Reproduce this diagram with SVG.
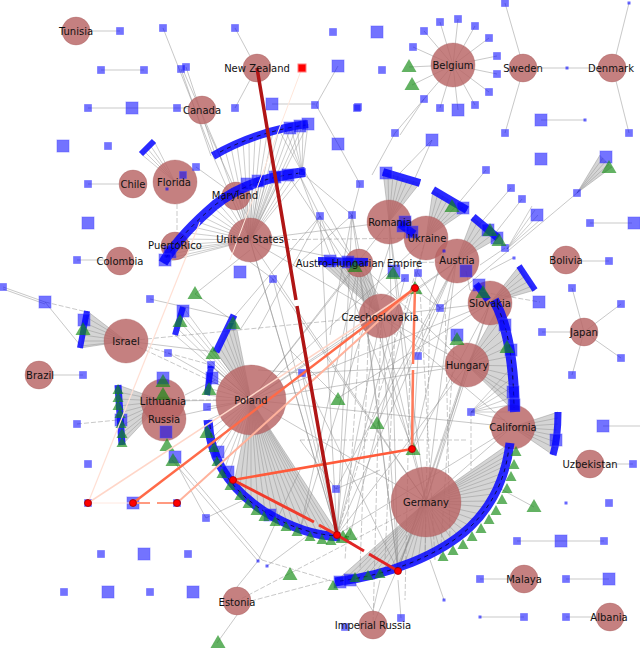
<svg xmlns="http://www.w3.org/2000/svg" width="640" height="650" viewBox="0 0 640 650">
<style>
.e{fill:none;stroke:#8c8c8c;stroke-width:.6;stroke-opacity:.8}
.ed{fill:none;stroke:#8c8c8c;stroke-width:.6;stroke-opacity:.8;stroke-dasharray:5 2}
.f{fill:none;stroke:#8a8a8a;stroke-width:.5;stroke-opacity:.85}
.fp{fill:#9a9a9a;fill-opacity:.42}
.c{fill:#b86464;fill-opacity:.82;stroke:#a05555;stroke-width:.5;stroke-opacity:.6}
.bs{fill:#0000ff;fill-opacity:.55;stroke:#5050ff;stroke-opacity:.45}
.gt{fill:#128a12;fill-opacity:.66}
.arc{fill:none;stroke:#0505ff;stroke-opacity:.85;stroke-linejoin:round}
.lab{fill:none;stroke:#000;stroke-width:.7;stroke-dasharray:4 4}
.rd{fill:#ff0000;stroke:#900;stroke-width:.8}
.re{fill:none}
text{font-family:"DejaVu Sans","Liberation Sans",sans-serif;font-size:10px;fill:#111;text-anchor:middle;dominant-baseline:central}
</style>
<defs>
<rect id="q" class="bs" x="-3.5" y="-3.5" width="7" height="7"/>
<rect id="Q" class="bs" x="-6" y="-6" width="12" height="12"/>
<rect id="d" fill="#0000ff" fill-opacity=".6" x="-1.5" y="-1.5" width="3" height="3"/>
<path id="t" class="gt" d="M0,-8L7.5,5H-7.5Z"/>
<path id="ts" class="gt" d="M0,-6L5.5,4H-5.5Z"/>
</defs>
<rect width="640" height="650" fill="#fff"/>

<g id="connectors">
<polygon class="fp" points="251,400 233,488 245,499 258,508 272,516 287,523 302,529 318,534 330,536 340,537"/>
<polygon class="fp" points="426,502 335,582 350,580 365,578 380,575 395,571 410,565 425,558 440,550 453,541 465,531 475,520 485,507 493,494 500,480 505,466 508,455 510,443"/>
<polygon class="fp" points="126,341 87,311 80,348"/>
<polygon class="fp" points="163,401 118,385 122,445"/>
<polygon class="fp" points="467,365 498,308 508,337 513,366 515,412"/>
<polygon class="fp" points="512,427 558,412 553,455"/>
<polygon class="fp" points="381,316 318,261 368,262"/>
<polygon class="fp" points="389,222 383,172 420,183"/>
<polygon class="fp" points="426,238 433,190 467,210"/>
<polygon class="fp" points="456,262 473,217 498,238"/>
<polygon class="fp" points="490,303 519,266 535,290"/>
<polygon class="fp" points="577,193 600,155 612,167"/>
<polygon class="fp" points="251,400 234,315 216,352"/>
<path class="f" d="M251,400L208,420M251,400L209,430M251,400L210,440M251,400L212,449M251,400L214,457M251,400L218,466M251,400L222,475M251,400L227,482M251,400L233,488M251,400L239,494M251,400L245,499M251,400L251,504M251,400L258,508M251,400L265,512M251,400L272,516M251,400L279,520M251,400L287,523M251,400L294,526M251,400L302,529M251,400L310,532M251,400L318,534M251,400L324,535M251,400L330,536M251,400L335,537M251,400L340,537"/>
<path class="f" d="M426,502L335,582M426,502L343,581M426,502L350,580M426,502L358,579M426,502L365,578M426,502L372,577M426,502L380,575M426,502L388,573M426,502L395,571M426,502L403,568M426,502L410,565M426,502L418,562M426,502L425,558M426,502L433,554M426,502L440,550M426,502L447,546M426,502L453,541M426,502L459,536M426,502L465,531M426,502L470,526M426,502L475,520M426,502L480,514M426,502L485,507M426,502L489,501M426,502L493,494M426,502L497,487M426,502L500,480M426,502L503,473M426,502L505,466M426,502L507,460M426,502L508,455M426,502L509,449M426,502L510,443"/>
<path class="f" d="M250,240L305,172M250,240L297,173M250,240L290,174M250,240L282,175M250,240L275,176M250,240L267,178M250,240L260,180M250,240L252,183M250,240L245,186M250,240L237,190M250,240L230,194M250,240L224,198M250,240L218,203M250,240L213,207M250,240L208,212M250,240L203,217M250,240L198,222M250,240L193,227M250,240L188,233M250,240L183,239M250,240L178,245M250,240L174,250M250,240L170,254M250,240L166,259M250,240L163,263"/>
<path class="f" d="M250,240L213,156M250,240L219,153M250,240L225,150M250,240L231,147M250,240L237,145M250,240L243,142M250,240L249,140M250,240L255,138M250,240L261,136M250,240L267,134M250,240L273,132M250,240L279,130M250,240L285,129M250,240L291,127M250,240L297,126M250,240L303,125M250,240L308,124M302,172L279,130M302,172L285,129M302,172L291,127M302,172L297,126M302,172L303,125M302,172L308,124"/>
<path class="f" d="M126,341L87,311M126,341L86,317M126,341L85,323M126,341L84,329M126,341L83,335M126,341L82,341M126,341L81,346M126,341L80,348M163,401L118,385M163,401L118,392M163,401L118,399M163,401L119,406M163,401L119,413M163,401L120,420M163,401L120,427M163,401L121,434M163,401L121,440M163,401L122,445"/>
<path class="f" d="M389,222L383,172M389,222L388,173M389,222L393,175M389,222L398,176M389,222L403,178M389,222L408,179M389,222L414,181M389,222L420,183M426,238L433,190M426,238L438,193M426,238L443,196M426,238L448,199M426,238L453,201M426,238L458,204M426,238L463,207M426,238L467,210M456,262L473,217M456,262L478,221M456,262L483,225M456,262L488,229M456,262L493,234M456,262L498,238M490,303L519,266M490,303L522,271M490,303L525,276M490,303L529,281M490,303L532,286M490,303L535,290M577,193L600,155M577,193L603,158M577,193L606,161M577,193L609,164M577,193L612,167M507,249L532,206M507,249L535,210M507,249L538,215M507,249L540,220"/>
<path class="f" d="M381,316L318,261M381,316L323,261M381,316L328,261M381,316L333,261M381,316L338,261M381,316L343,262M381,316L348,262M381,316L353,262M381,316L358,262M381,316L363,262M381,316L368,262M175,182L141,154M175,182L144,151M175,182L147,148M175,182L150,145M175,182L154,141"/>
<path class="f" d="M251,400L234,315M251,400L231,321M251,400L228,328M251,400L225,334M251,400L222,340M251,400L219,346M251,400L216,352M251,400L211,366M251,400L210,373M251,400L209,380M251,400L208,388M251,400L207,395M251,400L183,307M251,400L181,314M251,400L179,321M251,400L177,328M251,400L175,335"/>
<path class="f" d="M467,365L498,308M467,365L502,318M467,365L505,327M467,365L508,337M467,365L510,346M467,365L512,356M467,365L513,366M467,365L514,376M467,365L514,386M467,365L515,396M467,365L515,404M467,365L515,412M471,412L513,366M471,412L514,376M471,412L514,386M471,412L515,396M471,412L515,404M471,412L515,412M471,412L505,420M512,427L558,412M512,427L558,418M512,427L558,424M512,427L557,430M512,427L557,436M512,427L556,442M512,427L555,448M512,427L553,455"/>
<path class="e" d="M90,31H120M101,70H144M88,108H188M88,184H119M163,28L213,155M181,69L211,156M186,67L216,157M183,70L222,160M235,28L250,56M235,108L250,80M272,104H315M338,66L316,105L338,144L360,184M424,99L395,133L372,175M432,140L400,173M432,140L415,178M505,3L520,55M520,81L505,133M537,68H598M629,3L616,55M616,81L629,133M541,120H585M486,170L457,205M511,188L478,226M522,199L493,236M577,193L440,308M590,223H632M609,261H579M572,288L584,332M621,304L584,332M621,358L584,332M572,375L584,332M542,332H570M633,464H604M517,541H604M480,579H510M566,579H609M480,617H524M566,617H596M603,426H640M534,507L497,487M3,287L45,302M3,289L45,304M45,302L80,345M77,260H106M83,375H53M195,294L250,250M195,294L232,320M273,279L250,262M273,279L240,330M320,216L258,330M320,216L378,294M352,215L359,250M352,215L300,262M320,216L233,318M352,215L330,335M320,216L300,176M352,215L303,174M300,176L330,255M290,178L342,257M305,172L350,253M360,184L352,215M338,398L290,350M302,373L258,370M205,124L248,218M196,167L236,196"/>
<path class="e" d="M453,65L413,47M453,65L424,31M453,65L440,22M453,65L458,19M453,65L475,26M453,65L489,38M453,65L497,56M453,65L497,74M453,65L489,92M453,65L475,105M453,65L458,110M453,65L440,108M453,65L424,99M453,65L409,67M453,65L412,85M424,99L400,135"/>
<path class="e" d="M251,400L381,316M251,400L426,502M251,400L467,365M251,400L456,262M251,400L359,263M251,400L389,222M251,400L426,238M251,400L490,303M251,400L512,427M381,316L426,502M381,316L467,365M381,316L250,240M381,316L456,262M381,316L490,303M381,316L512,427M359,263L426,502M359,263L467,365M359,263L250,240M426,502L467,365M426,502L512,427M426,502L490,303M426,502L456,262M426,502L389,222M426,502L250,240M426,502L373,625M250,240L389,222M163,401L251,400M164,419L251,400M337,535L359,263M337,535L381,316M337,535L320,216M337,535L352,215M337,535L273,279M337,535L467,365M337,535L302,373M337,535L250,240M398,571L389,222M398,571L381,316M398,571L359,263M413,450L456,262M413,450L389,222M413,450L490,303M237,587L258,561L300,470M172,460L258,561M175,457L262,560M267,566L315,530M237,615L217,643M373,611L355,583M373,611L380,580M401,618L398,580M444,600L430,560M206,518L250,497M206,518L176,463M336,489L300,440M336,489L380,470M418,356L440,308M418,356L413,445M405,278L381,300M418,273L440,308M444,251L430,300M466,271L470,290M505,248L480,265M440,308L413,288M513,258L490,270M211,365L251,400M207,407L251,400M168,353L251,400M150,299L233,318M126,341L216,352M185,395L215,380M390,244L300,530M456,262L337,535M512,427L337,535M490,303L398,571M467,365L398,571M320,216L413,450M352,215L398,571M273,279L426,502M302,373L467,365M338,398L490,303M377,424L456,262M336,489L456,262M302,373L398,571M250,240L337,535M359,263L300,530M426,238L350,535M405,278L337,535"/>
<path class="ed" d="M45,302L87,312M77,424L118,420M148,347L168,353L211,365M251,601L330,580M426,502L237,601M426,238L337,535M381,316L373,625M250,240L426,238M126,341L251,400M471,412L471,470M430,300L425,560M445,300L450,540M395,330L385,560M410,360L405,600M360,330L345,560M185,400L216,400M177,204L177,240M126,341L381,316M359,263L456,262M300,440L466,440M262,560L335,582M470,290L540,302M370,290L360,570M420,290L435,560M455,330L440,560"/>
</g>

<g id="n-tunisia"><circle class="c" cx="76" cy="31" r="14"/><text x="76" y="31">Tunisia</text></g>
<g id="n-newzealand"><circle class="c" cx="257" cy="68" r="14"/></g>
<g id="n-belgium"><circle class="c" cx="453" cy="65" r="22"/></g>
<g id="n-sweden"><circle class="c" cx="523" cy="68" r="14"/></g>
<g id="n-denmark"><circle class="c" cx="612" cy="68" r="14"/></g>
<g id="n-canada"><circle class="c" cx="202" cy="110" r="14"/></g>
<g id="n-chile"><circle class="c" cx="133" cy="184" r="14"/></g>
<g id="n-florida"><circle class="c" cx="175" cy="182" r="22"/></g>
<g id="n-maryland"><circle class="c" cx="236" cy="196" r="14"/></g>
<g id="n-unitedstates"><circle class="c" cx="250" cy="240" r="22"/></g>
<g id="n-puertorico"><circle class="c" cx="175" cy="246" r="14"/></g>
<g id="n-colombia"><circle class="c" cx="120" cy="261" r="14"/></g>
<g id="n-romania"><circle class="c" cx="389" cy="222" r="22"/></g>
<g id="n-ukraine"><circle class="c" cx="426" cy="238" r="22"/></g>
<g id="n-austria"><circle class="c" cx="457" cy="261" r="22"/></g>
<g id="n-austrohungarian"><circle class="c" cx="359" cy="263" r="14"/></g>
<g id="n-bolivia"><circle class="c" cx="566" cy="260" r="14"/></g>
<g id="n-slovakia"><circle class="c" cx="490" cy="303" r="22"/></g>
<g id="n-czechoslovakia"><circle class="c" cx="381" cy="316" r="22"/></g>
<g id="n-israel"><circle class="c" cx="126" cy="341" r="22"/></g>
<g id="n-japan"><circle class="c" cx="584" cy="332" r="14"/></g>
<g id="n-hungary"><circle class="c" cx="467" cy="365" r="22"/></g>
<g id="n-brazil"><circle class="c" cx="39" cy="375" r="14"/></g>
<g id="n-lithuania"><circle class="c" cx="163" cy="401" r="22"/></g>
<g id="n-russia"><circle class="c" cx="164" cy="419" r="22"/></g>
<g id="n-poland"><circle class="c" cx="251" cy="400" r="35"/></g>
<g id="n-california"><circle class="c" cx="513" cy="427" r="22"/></g>
<g id="n-uzbekistan"><circle class="c" cx="590" cy="464" r="14"/></g>
<g id="n-germany"><circle class="c" cx="426" cy="502" r="35"/></g>
<g id="n-malaya"><circle class="c" cx="524" cy="579" r="14"/></g>
<g id="n-estonia"><circle class="c" cx="237" cy="601" r="14"/></g>
<g id="n-imperialrussia"><circle class="c" cx="373" cy="625" r="14"/></g>
<g id="n-albania"><circle class="c" cx="610" cy="617" r="14"/></g>

<g id="arcs">
<path class="arc" stroke-width="8" d="M213,156C240,140 275,128 308,124"/>
<path class="arc" stroke-width="10" d="M305,172C270,176 240,185 215,205C195,222 175,243 163,263"/>
<path class="arc" stroke-width="8" d="M383,172L420,183"/>
<path class="arc" stroke-width="8" d="M433,190L467,210"/>
<path class="arc" stroke-width="8" d="M473,217L498,238"/>
<path class="arc" stroke-width="6" d="M519,266L535,290"/>
<path class="arc" stroke-width="6" d="M141,154L154,141"/>
<path class="arc" stroke-width="10" d="M494,300C505,320 513,350 515,412"/>
<path class="arc" stroke-width="7" d="M558,412C558,430 556,445 553,455"/>
<path class="arc" stroke-width="9" d="M335,582C390,575 440,555 470,527C495,503 506,475 510,443"/>
<path class="arc" stroke-width="9" d="M208,420C210,455 225,485 262,510C290,528 315,536 340,537"/>
<path class="arc" stroke-width="7" d="M234,315L216,352"/>
<path class="arc" stroke-width="6" d="M211,366L207,395"/>
<path class="arc" stroke-width="6" d="M87,311L80,348"/>
<path class="arc" stroke-width="7" d="M118,385L122,445"/>
<path class="arc" stroke-width="6" d="M183,307L175,335"/>
<path class="arc" stroke-width="8" d="M318,261L368,262"/>
<path class="arc" stroke-width="8" d="M400,224L414,234"/>
<path class="arc" stroke-width="7" d="M476,284L488,300"/>
<path class="lab" d="M220,152C245,139 275,129 306,125M300,173C268,177 240,186 215,205C195,222 177,241 166,258M497,306C507,326 513,352 514,408M340,581C392,574 440,555 470,527C495,503 506,475 509,447M210,425C212,457 226,486 262,510C290,528 315,536 352,537"/>
</g>

<g id="squares">
<use href="#q" x="120" y="31"/><use href="#q" x="163" y="28"/><use href="#q" x="235" y="28"/><use href="#q" x="101" y="70"/><use href="#q" x="144" y="70"/><use href="#q" x="181" y="69"/><use href="#q" x="186" y="67"/><use href="#q" x="88" y="108"/><use href="#q" x="177" y="108"/><use href="#q" x="235" y="108"/><use href="#q" x="315" y="105"/><use href="#q" x="108" y="146"/><use href="#q" x="196" y="167"/><use href="#q" x="183" y="175"/><use href="#q" x="88" y="184"/><use href="#q" x="358" y="107"/><use href="#q" x="395" y="133"/><use href="#q" x="360" y="184"/><use href="#q" x="333" y="32"/><use href="#q" x="382" y="70"/><use href="#q" x="357" y="108"/><use href="#q" x="505" y="3"/><use href="#q" x="505" y="133"/><use href="#q" x="629" y="133"/><use href="#q" x="486" y="170"/><use href="#q" x="511" y="188"/><use href="#q" x="522" y="199"/><use href="#q" x="577" y="193"/><use href="#q" x="352" y="215"/><use href="#q" x="320" y="216"/><use href="#q" x="77" y="260"/><use href="#q" x="3" y="287"/><use href="#q" x="150" y="299"/><use href="#q" x="273" y="279"/><use href="#q" x="168" y="353"/><use href="#q" x="211" y="365"/><use href="#q" x="83" y="375"/><use href="#q" x="207" y="407"/><use href="#q" x="77" y="424"/><use href="#q" x="302" y="373"/><use href="#q" x="590" y="223"/><use href="#q" x="505" y="248"/><use href="#q" x="418" y="273"/><use href="#q" x="405" y="278"/><use href="#q" x="440" y="308"/><use href="#q" x="542" y="332"/><use href="#q" x="572" y="288"/><use href="#q" x="621" y="304"/><use href="#q" x="621" y="358"/><use href="#q" x="572" y="375"/><use href="#q" x="609" y="261"/><use href="#q" x="418" y="356"/><use href="#q" x="471" y="412"/><use href="#q" x="88" y="464"/><use href="#q" x="206" y="518"/><use href="#q" x="101" y="554"/><use href="#q" x="188" y="554"/><use href="#q" x="64" y="592"/><use href="#q" x="150" y="592"/><use href="#q" x="633" y="464"/><use href="#q" x="609" y="503"/><use href="#q" x="517" y="541"/><use href="#q" x="604" y="541"/><use href="#q" x="480" y="579"/><use href="#q" x="566" y="579"/><use href="#q" x="524" y="617"/><use href="#q" x="566" y="617"/><use href="#q" x="401" y="618"/><use href="#q" x="336" y="489"/><use href="#q" x="345" y="627"/><use href="#q" x="88" y="503"/><use href="#q" x="177" y="503"/><use href="#q" x="302" y="172"/><use href="#q" x="232" y="326"/>
<use href="#q" x="413" y="47"/><use href="#q" x="424" y="31"/><use href="#q" x="440" y="22"/><use href="#q" x="458" y="19"/><use href="#q" x="475" y="26"/><use href="#q" x="489" y="38"/><use href="#q" x="497" y="56"/><use href="#q" x="497" y="74"/><use href="#q" x="489" y="92"/><use href="#q" x="475" y="105"/><use href="#q" x="440" y="108"/><use href="#q" x="424" y="99"/>
<use href="#Q" x="458" y="110"/><use href="#Q" x="132" y="108"/><use href="#Q" x="272" y="104"/><use href="#Q" x="63" y="146"/><use href="#Q" x="377" y="32"/><use href="#Q" x="338" y="66"/><use href="#Q" x="338" y="144"/><use href="#Q" x="432" y="140"/><use href="#Q" x="541" y="120"/><use href="#Q" x="541" y="159"/><use href="#Q" x="88" y="223"/><use href="#Q" x="45" y="302"/><use href="#Q" x="166" y="432"/><use href="#Q" x="405" y="222"/><use href="#Q" x="466" y="271"/><use href="#Q" x="539" y="302"/><use href="#Q" x="457" y="335"/><use href="#Q" x="634" y="223"/><use href="#Q" x="603" y="426"/><use href="#Q" x="133" y="503"/><use href="#Q" x="144" y="554"/><use href="#Q" x="108" y="592"/><use href="#Q" x="193" y="592"/><use href="#Q" x="561" y="541"/><use href="#Q" x="609" y="579"/><use href="#Q" x="537" y="215"/><use href="#Q" x="606" y="157"/><use href="#Q" x="183" y="311"/><use href="#Q" x="163" y="378"/><use href="#Q" x="175" y="457"/>
<use href="#Q" x="290" y="128"/><use href="#Q" x="300" y="126"/><use href="#Q" x="308" y="124"/><use href="#Q" x="247" y="184"/><use href="#Q" x="258" y="181"/><use href="#Q" x="275" y="177"/><use href="#Q" x="288" y="175"/><use href="#Q" x="386" y="173"/><use href="#Q" x="463" y="208"/><use href="#Q" x="488" y="230"/><use href="#Q" x="497" y="238"/><use href="#Q" x="330" y="261"/><use href="#Q" x="348" y="262"/><use href="#Q" x="403" y="226"/><use href="#Q" x="412" y="232"/><use href="#Q" x="479" y="285"/><use href="#Q" x="505" y="325"/><use href="#Q" x="511" y="350"/><use href="#Q" x="513" y="392"/><use href="#Q" x="514" y="405"/><use href="#Q" x="556" y="440"/><use href="#Q" x="340" y="582"/><use href="#Q" x="350" y="580"/><use href="#Q" x="218" y="452"/><use href="#Q" x="228" y="472"/><use href="#Q" x="270" y="515"/><use href="#Q" x="240" y="272"/><use href="#Q" x="394" y="271"/><use href="#Q" x="212" y="378"/><use href="#Q" x="121" y="420"/><use href="#Q" x="84" y="320"/><use href="#Q" x="170" y="252"/><use href="#Q" x="165" y="260"/>
<use href="#d" x="567" y="68"/><use href="#d" x="585" y="120"/><use href="#d" x="566" y="503"/><use href="#d" x="444" y="600"/><use href="#d" x="480" y="617"/><use href="#d" x="444" y="251"/><use href="#d" x="514" y="258"/><use href="#d" x="258" y="561"/><use href="#d" x="267" y="566"/><use href="#d" x="629" y="3"/><use href="#d" x="167" y="189"/>
</g>

<g id="triangles">
<use href="#t" x="409" y="67"/><use href="#t" x="412" y="85"/><use href="#t" x="195" y="294"/><use href="#t" x="338" y="400"/><use href="#t" x="377" y="424"/><use href="#t" x="290" y="575"/><use href="#t" x="534" y="507"/><use href="#t" x="218" y="643"/><use href="#t" x="413" y="450"/><use href="#t" x="415" y="289"/><use href="#t" x="173" y="461"/><use href="#t" x="355" y="267"/><use href="#t" x="393" y="274"/><use href="#t" x="457" y="340"/><use href="#t" x="452" y="207"/><use href="#t" x="490" y="231"/><use href="#t" x="499" y="241"/><use href="#t" x="609" y="168"/><use href="#t" x="180" y="322"/><use href="#t" x="163" y="382"/><use href="#t" x="163" y="395"/><use href="#t" x="167" y="446"/><use href="#t" x="350" y="535"/><use href="#t" x="343" y="538"/><use href="#t" x="483" y="293"/><use href="#t" x="507" y="348"/><use href="#t" x="83" y="330"/><use href="#t" x="233" y="324"/><use href="#t" x="213" y="354"/><use href="#t" x="209" y="390"/><use href="#t" x="207" y="433"/>
<use href="#ts" x="118" y="390"/><use href="#ts" x="118" y="398"/><use href="#ts" x="118" y="406"/><use href="#ts" x="120" y="414"/><use href="#ts" x="121" y="424"/><use href="#ts" x="122" y="434"/><use href="#ts" x="122" y="443"/>
<use href="#ts" x="214" y="448"/><use href="#ts" x="217" y="462"/><use href="#ts" x="222" y="474"/><use href="#ts" x="230" y="486"/><use href="#ts" x="240" y="496"/><use href="#ts" x="248" y="504"/><use href="#ts" x="256" y="511"/><use href="#ts" x="264" y="517"/><use href="#ts" x="275" y="522"/><use href="#ts" x="286" y="527"/><use href="#ts" x="297" y="532"/><use href="#ts" x="310" y="537"/><use href="#ts" x="322" y="540"/><use href="#ts" x="331" y="541"/>
<use href="#ts" x="516" y="452"/><use href="#ts" x="514" y="465"/><use href="#ts" x="511" y="477"/><use href="#ts" x="507" y="489"/><use href="#ts" x="502" y="500"/><use href="#ts" x="496" y="511"/><use href="#ts" x="489" y="520"/><use href="#ts" x="481" y="529"/><use href="#ts" x="472" y="537"/><use href="#ts" x="463" y="545"/><use href="#ts" x="453" y="551"/><use href="#ts" x="443" y="557"/><use href="#ts" x="333" y="586"/><use href="#ts" x="355" y="578"/><use href="#ts" x="368" y="576"/><use href="#ts" x="380" y="574"/>
</g>

<g id="connectors-highlight">
<path class="re" stroke="#ffe6da" stroke-width="1" d="M302,68L230,260"/>
<path class="re" stroke="#ffe0d4" stroke-width="1.2" d="M88,503L200,222"/>
<path class="re" stroke="#ffe8e0" stroke-width="1" d="M88,503H133"/>
<path class="re" stroke="#ffd6c8" stroke-width="1.5" d="M88,503L415,288"/>
<path class="re" stroke="#ffb29c" stroke-width="2" d="M177,503L415,288"/>
<path class="re" stroke="#ff6a48" stroke-width="2.5" d="M133,503L415,288"/>
<path class="re" stroke="#ff9a80" stroke-width="2" d="M133,503H150M157,503H177"/>
<path class="re" stroke="#ff7a5a" stroke-width="2.5" d="M412,449L413,370M413,364L415,288"/>
<path class="re" stroke="#ff5a3a" stroke-width="2.5" d="M233,480L412,449"/>
<path class="re" stroke="#f03c2c" stroke-width="3" d="M233,480L314,522M319,525L337,535"/>
<path class="re" stroke="#e02525" stroke-width="3" d="M337,535L364,551M369,554L398,571"/>
<path class="re" stroke="#b01515" stroke-width="3.5" d="M257,68L296,300M297,306L337,535"/>
<rect x="298" y="64" width="8" height="8" fill="#ff0000" stroke="#ff8080" stroke-width="1"/>
<circle class="rd" cx="233" cy="480" r="3.5"/><circle class="rd" cx="337" cy="535" r="3.5"/><circle class="rd" cx="398" cy="571" r="3.5"/><circle class="rd" cx="412" cy="449" r="3.5"/><circle class="rd" cx="415" cy="288" r="3.5"/><circle class="rd" cx="133" cy="503" r="3.5"/><circle class="rd" cx="177" cy="503" r="3.5"/><circle class="rd" cx="88" cy="503" r="3.5"/>
</g>

<g id="labels">
<text x="257" y="68">New Zealand</text><text x="453" y="65">Belgium</text><text x="523" y="68">Sweden</text><text x="611" y="68">Denmark</text><text x="202" y="110">Canada</text><text x="133" y="184">Chile</text><text x="174" y="182">Florida</text><text x="235" y="195">Maryland</text><text x="250" y="239">United States</text><text x="175" y="245">PuertoRico</text><text x="120" y="261">Colombia</text><text x="390" y="222">Romania</text><text x="427" y="238">Ukraine</text><text x="457" y="260">Austria</text><text x="359" y="263">Austro-Hungarian Empire</text><text x="566" y="260">Bolivia</text><text x="490" y="303">Slovakia</text><text x="380" y="317">Czechoslovakia</text><text x="126" y="341">Israel</text><text x="584" y="332">Japan</text><text x="467" y="365">Hungary</text><text x="40" y="375">Brazil</text><text x="163" y="401">Lithuania</text><text x="164" y="419">Russia</text><text x="251" y="400">Poland</text><text x="513" y="427">California</text><text x="590" y="464">Uzbekistan</text><text x="426" y="502">Germany</text><text x="524" y="579">Malaya</text><text x="237" y="602">Estonia</text><text x="373" y="625">Imperial Russia</text><text x="609" y="617">Albania</text>
</g>
</svg>
